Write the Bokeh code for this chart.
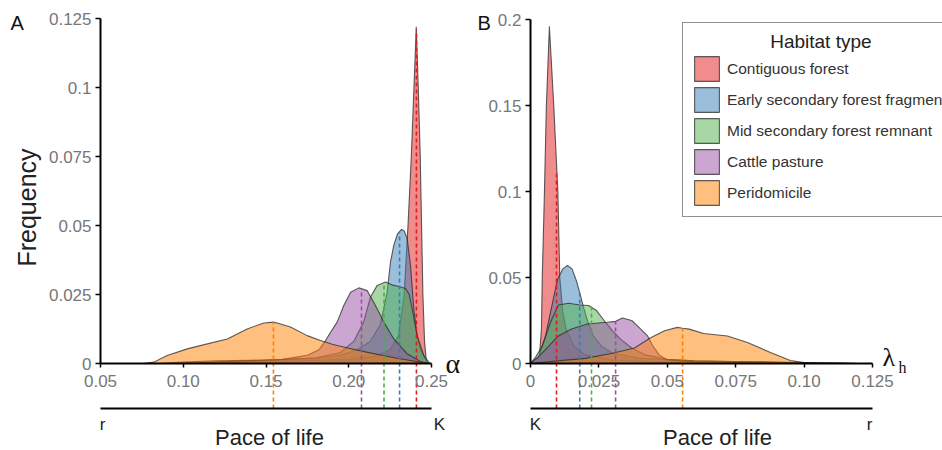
import numpy as np
from bokeh.plotting import figure
from bokeh.models import Range1d, LinearAxis, FixedTicker, Legend, LegendItem
from bokeh.layouts import row
from bokeh.embed import file_html
from bokeh.resources import INLINE
from bokeh.core.properties import value

# ---------------- data ----------------
habitats = ["Contiguous forest", "Early secondary forest fragment",
            "Mid secondary forest remnant", "Cattle pasture", "Peridomicile"]
colors = ["#E41A1C", "#377EB8", "#4DAF4A", "#984EA3", "#FF7F00"]
legend_title = "Habitat type"

# Panel A: alpha densities
a_contig_x = [0.085, 0.10, 0.12, 0.14, 0.16, 0.18, 0.20, 0.215, 0.225, 0.23, 0.2335, 0.2358, 0.2378,
              0.2394, 0.2408, 0.2420, 0.2432, 0.2440, 0.2448, 0.2458, 0.2470]
a_contig_y = [0, 0.0005, 0.001, 0.0012, 0.0009, 0.0012, 0.0015, 0.0025, 0.005, 0.01, 0.025, 0.05, 0.075,
              0.1, 0.122, 0.1, 0.075, 0.05, 0.025, 0.008, 0]
a_early_x = [0.10, 0.13, 0.16, 0.18, 0.195, 0.205, 0.213, 0.219, 0.2232, 0.2252, 0.2272, 0.2295, 0.2319,
             0.2335, 0.2353, 0.2373, 0.2393, 0.2413, 0.2435, 0.2453, 0.248]
a_early_y = [0, 0.0008, 0.0015, 0.002, 0.003, 0.005, 0.008, 0.014, 0.0258, 0.0367, 0.0428, 0.047, 0.0486,
             0.048, 0.0453, 0.0355, 0.02, 0.0101, 0.005, 0.0029, 0]
a_mid_x = [0.12, 0.15, 0.18, 0.195, 0.203, 0.209, 0.2131, 0.2172, 0.2222, 0.226, 0.2302, 0.2343, 0.2365,
           0.2383, 0.2413, 0.2453, 0.2490]
a_mid_y = [0, 0.001, 0.002, 0.004, 0.008, 0.015, 0.024, 0.0283, 0.0295, 0.0285, 0.0279, 0.0272, 0.025,
           0.02, 0.0101, 0.003, 0]
a_cattle_x = [0.10, 0.13, 0.16, 0.175, 0.182, 0.186, 0.189, 0.193, 0.197, 0.2011, 0.2061, 0.2111, 0.2151,
              0.2212, 0.2272, 0.2353, 0.2433, 0.248]
a_cattle_y = [0, 0.0008, 0.0015, 0.003, 0.005, 0.0083, 0.0113, 0.015, 0.021, 0.0258, 0.0274, 0.0264, 0.0222,
              0.015, 0.0089, 0.0035, 0.0007, 0]
a_peri_x = [0.076, 0.0822, 0.0903, 0.1024, 0.1145, 0.1266, 0.1386, 0.1487, 0.1545, 0.1568, 0.1648, 0.1749,
            0.1829, 0.19, 0.20, 0.21, 0.22, 0.23, 0.24, 0.248]
a_peri_y = [0, 0.0005, 0.0029, 0.0053, 0.0071, 0.0089, 0.0125, 0.0147, 0.015, 0.0147, 0.0132, 0.0101,
            0.0083, 0.007, 0.0055, 0.0042, 0.003, 0.0018, 0.0008, 0]
a_median = [0.2409, 0.2307, 0.2213, 0.2077, 0.1545]
a_median_h = [0.121, 0.0475, 0.029, 0.0266, 0.015]
a_xticks = [0.05, 0.10, 0.15, 0.20, 0.25]
a_xlabels = ["0.05", "0.10", "0.15", "0.20", "0.25"]
a_yticks = [0, 0.025, 0.05, 0.075, 0.1, 0.125]
a_ylabels = ["0", "0.025", "0.05", "0.075", "0.1", "0.125"]

# Panel B: lambda_h densities
b_contig_x = [0.002, 0.0033, 0.004, 0.0043, 0.0051, 0.0058, 0.0069, 0.0085, 0.01, 0.0107, 0.0118, 0.013,
              0.016, 0.02, 0.03, 0.05, 0.07, 0.085, 0.1, 0.12]
b_contig_y = [0, 0.005, 0.02, 0.05, 0.1, 0.15, 0.196, 0.15, 0.1, 0.05, 0.03, 0.02, 0.01, 0.005, 0.002,
              0.001, 0.0012, 0.001, 0.0005, 0]
b_early_x = [0, 0.003, 0.0055, 0.008, 0.0099, 0.0118, 0.0135, 0.0152, 0.0168, 0.018, 0.0195, 0.021, 0.023,
             0.026, 0.03, 0.04, 0.06, 0.08, 0.1, 0.12]
b_early_y = [0, 0.004, 0.016, 0.035, 0.049, 0.055, 0.057, 0.055, 0.048, 0.041, 0.032, 0.024, 0.016, 0.01,
             0.006, 0.003, 0.0015, 0.0008, 0.0003, 0]
b_mid_x = [0, 0.002, 0.0044, 0.0073, 0.0102, 0.014, 0.018, 0.0212, 0.024, 0.0274, 0.03, 0.033, 0.037,
           0.042, 0.05, 0.06, 0.08, 0.1, 0.12]
b_mid_y = [0, 0.004, 0.0105, 0.024, 0.034, 0.035, 0.034, 0.0337, 0.031, 0.024, 0.019, 0.014, 0.009, 0.005,
           0.0025, 0.0015, 0.001, 0.0003, 0]
b_cattle_x = [0, 0.003, 0.006, 0.0102, 0.015, 0.0208, 0.028, 0.0311, 0.0336, 0.037, 0.039, 0.0428, 0.0446,
              0.047, 0.05, 0.06, 0.08, 0.1, 0.12]
b_cattle_y = [0, 0.004, 0.009, 0.016, 0.02, 0.023, 0.024, 0.0245, 0.0265, 0.025, 0.022, 0.016, 0.0105,
              0.005, 0.002, 0.001, 0.0005, 0.0002, 0]
b_peri_x = [0, 0.01, 0.02, 0.03, 0.038, 0.0439, 0.049, 0.0537, 0.0556, 0.058, 0.0633, 0.072, 0.0793,
            0.0877, 0.095, 0.1, 0.105]
b_peri_y = [0, 0.0015, 0.003, 0.006, 0.009, 0.015, 0.019, 0.021, 0.0205, 0.02, 0.0174, 0.016, 0.0122,
            0.0064, 0.0017, 0.0005, 0]
b_median = [0.0095, 0.018, 0.0223, 0.0311, 0.0556]
b_median_h = [0.112, 0.041, 0.0337, 0.0244, 0.0203]
b_xticks = [0, 0.025, 0.05, 0.075, 0.10, 0.125]
b_xlabels = ["0", "0.025", "0.05", "0.075", "0.10", "0.125"]
b_yticks = [0, 0.05, 0.1, 0.15, 0.2]
b_ylabels = ["0", "0.05", "0.1", "0.15", "0.2"]

# ---------------- styling / layout ----------------
FONT = "Liberation Sans"
SERIF = "Liberation Serif"
H = 450            # figure height
TOP, BOT = 0, 450  # page y of figure top/bottom
ZERO_PY = 363      # page y of the density baseline
PACE_PY = 408      # page y of the pace-of-life line


def make_panel(page_left, width, axis_px, x_lo, x_hi, sx, sy, y_hi, curves, med, med_h,
               xticks, xlabels, yticks, ylabels):
    px = lambda p: x_lo + (p - axis_px) / sx
    py = lambda p: (ZERO_PY - p) / sy
    fig = figure(width=width, height=H,
                 x_range=Range1d(px(page_left), px(page_left + width)),
                 y_range=Range1d(py(BOT), py(TOP)),
                 x_axis_type=None, y_axis_type=None, toolbar_location=None,
                 output_backend="svg", min_border=0, outline_line_color=None,
                 background_fill_color="white", border_fill_color="white")
    rends = []
    for (cx, cy), col in zip(curves, colors):
        xs = [cx[0]] + list(cx) + [cx[-1]]
        ys = [0] + list(cy) + [0]
        r = fig.patch(xs, ys, fill_color=col, fill_alpha=0.5, line_color="#2a2a2a",
                      line_alpha=0.75, line_width=1.1)
        rends.append(r)
    fig.segment(x0=med, y0=[py(PACE_PY)] * len(med), x1=med, y1=med_h,
                line_color=colors, line_width=1.6, line_dash="4 3")
    # pace-of-life line
    fig.segment(x0=[x_lo], y0=[py(PACE_PY)], x1=[x_hi], y1=[py(PACE_PY)],
                line_color="black", line_width=2)

    common = dict(axis_line_width=2, axis_line_color="black",
                  major_tick_in=0, major_tick_line_width=1.5,
                  minor_tick_out=0, minor_tick_in=0,
                  major_label_text_font=FONT, major_label_text_font_size="17px",
                  major_label_text_color="#777777")
    xa = LinearAxis(fixed_location=0, bounds=(x_lo, x_hi), ticker=FixedTicker(ticks=xticks),
                    major_label_overrides={t: l for t, l in zip(xticks, xlabels)},
                    major_tick_out=4, major_label_standoff=7, **common)
    fig.add_layout(xa, "below")
    ya = LinearAxis(fixed_location=x_lo, bounds=(0, y_hi), ticker=FixedTicker(ticks=yticks),
                    major_label_overrides={t: l for t, l in zip(yticks, ylabels)},
                    major_tick_out=5, major_label_standoff=4, **common)
    fig.add_layout(ya, "left")
    return fig, rends, px, py


def label(fig, x, y, txt, size, font=FONT, align="left", angle=0, color="#222222"):
    fig.text(x=[x], y=[y], text=[txt], angle=angle, text_font=value(font), text_font_size=size,
             text_color=color, text_baseline="middle", text_align=align)


# Panel A
pa, ra, pxa, pya = make_panel(0, 470, 100, 0.05, 0.25, 1655, 2760, 0.125,
                              [(a_contig_x, a_contig_y), (a_early_x, a_early_y), (a_mid_x, a_mid_y),
                               (a_cattle_x, a_cattle_y), (a_peri_x, a_peri_y)],
                              a_median, a_median_h, a_xticks, a_xlabels, a_yticks, a_ylabels)
label(pa, pxa(10), pya(22), "A", "20px", color="#111111")
label(pa, pxa(26), pya(207), "Frequency", "25px", align="center", angle=np.pi / 2)
label(pa, pxa(445), 0, "α", "28px", font=SERIF, color="#111111")
label(pa, pxa(102), pya(424), "r", "17px", align="center")
label(pa, pxa(439), pya(424), "K", "17px", align="center")
label(pa, pxa(269), pya(437), "Pace of life", "22px", align="center")

# Panel B
pb, rb, pxb, pyb = make_panel(470, 472, 530, 0.0, 0.125, 2736, 1720, 0.2,
                              [(b_contig_x, b_contig_y), (b_early_x, b_early_y), (b_mid_x, b_mid_y),
                               (b_cattle_x, b_cattle_y), (b_peri_x, b_peri_y)],
                              b_median, b_median_h, b_xticks, b_xlabels, b_yticks, b_ylabels)
label(pb, pxb(477), pyb(22), "B", "20px", color="#111111")
label(pb, pxb(882), pyb(357), "λ", "26px", font=SERIF, color="#111111")
label(pb, pxb(898), pyb(367), "h", "16px", font=SERIF, color="#111111")
label(pb, pxb(535), pyb(424), "K", "17px", align="center")
label(pb, pxb(869), pyb(424), "r", "17px", align="center")
label(pb, pxb(717), pyb(437), "Pace of life", "22px", align="center")

# legend (title padded with no-break spaces to sit centred over the items)
items = [LegendItem(label=h, renderers=[r]) for h, r in zip(habitats, rb)]
leg = Legend(items=items, location=(212, 233), title="\u00a0" * 15 + legend_title,
             title_text_font=FONT, title_text_font_size="19px", title_text_color="#222222",
             title_text_font_style="normal",
             title_standoff=0, label_text_font=FONT, label_text_font_size="15.5px",
             label_text_color="#333333", glyph_width=31, glyph_height=31, label_height=25,
             spacing=0, padding=8, margin=0, label_standoff=5,
             border_line_color="#222222", border_line_width=1.5,
             background_fill_color="white", background_fill_alpha=1)
pb.add_layout(leg, "center")

layout = row(pa, pb)
open("out.html", "w").write(file_html(layout, INLINE))
